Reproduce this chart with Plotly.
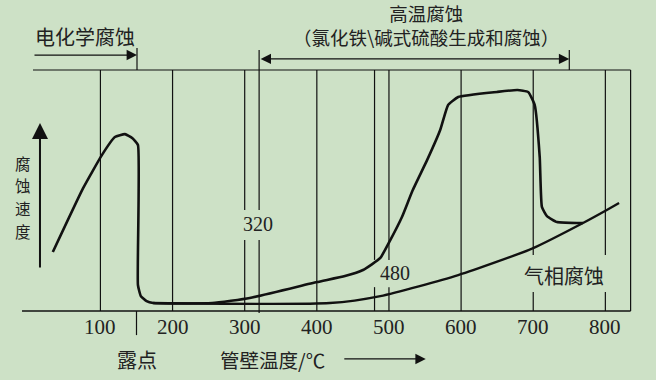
import plotly.graph_objects as go

# ---- data (temperature in °C, corrosion rate in arbitrary units 0..100) ----
main_T = [34, 76, 102, 120, 134, 144, 152, 152, 156, 164, 173, 255, 307, 400,
          439, 464, 488, 502, 518, 533, 553, 571, 582, 596, 650, 678, 693, 702,
          709, 712, 719, 733, 761, 769]
main_rate = [24.5, 51.0, 64.7, 72.2, 73.4, 71.8, 68.9, 10.8, 6.2, 4.1, 3.3, 3.3,
             5.4, 12.0, 14.5, 17.0, 22.0, 29.5, 39.0, 50.2, 62.7, 75.1, 85.5, 88.8,
             90.9, 91.7, 90.9, 85.5, 63.9, 43.2, 39.4, 36.9, 36.5, 36.5]

gas_T = [173, 418, 488, 596, 700, 769, 802, 819]
gas_rate = [3.3, 3.3, 6.2, 14.9, 26.1, 36.5, 41.9, 44.8]

tick_vals = [100, 200, 300, 400, 500, 600, 700, 800]
tick_text = ["100", "200", "300", "400", "500", "600", "700", "800"]

y_label_chars = ["腐", "蚀", "速", "度"]

DEW_POINT = 150
HT_START, HT_END = 320, 750
MARK_320, MARK_480 = 320, 480
BOX_LEFT, BOX_RIGHT, BOX_TOP = 6.5, 835, 100

# gridlines with gaps where labels sit: (T, [(y0, y1), ...])
grid = [
    (100, [(0, 100)]),
    (200, [(0, 100)]),
    (300, [(0, 29.5), (41.9, 100)]),
    (MARK_320, [(-0.8, 29.5), (41.9, 108.3)]),
    (400, [(0, 100)]),
    (MARK_480, [(0, 9.9), (21.2, 100)]),
    (500, [(0, 9.9), (21.2, 100)]),
    (600, [(0, 100)]),
    (700, [(0, 7.9), (23.2, 100)]),
    (800, [(0, 7.9), (23.2, 100)]),
    (BOX_RIGHT, [(0, 100)]),
]

BG = "#cde1c6"
INK = "#111111"
TXT = "#222222"
CJK = "Noto Sans CJK SC, sans-serif"
NUM = "Liberation Serif, Times New Roman, serif"

fig = go.Figure()
fig.add_trace(go.Scatter(x=main_T, y=main_rate, mode="lines",
                         line=dict(color=INK, width=2.6, shape="spline", smoothing=0.4),
                         hoverinfo="skip", showlegend=False))
fig.add_trace(go.Scatter(x=gas_T, y=gas_rate, mode="lines",
                         line=dict(color=INK, width=2.4, shape="spline", smoothing=0.6),
                         hoverinfo="skip", showlegend=False))

shapes = []
def seg(x0, y0, x1, y1, w=1.2):
    shapes.append(dict(type="line", xref="x", yref="y", x0=x0, y0=y0, x1=x1, y1=y1,
                       line=dict(color=INK, width=w), layer="below"))

for t, parts in grid:
    for a, b in parts:
        seg(t, a, t, b)
seg(BOX_LEFT, BOX_TOP, BOX_RIGHT, BOX_TOP)          # top line
seg(-8.7, 0, BOX_RIGHT, 0, 1.4)                      # x axis
seg(DEW_POINT, 0, DEW_POINT, -10, 1.2)               # dew point tick
seg(150.7, 100, 150.7, 109.1)                        # end of electrochemical range
seg(HT_END, 100, HT_END, 108.3)                      # end of high-temp range

annotations = []
def arrow(x0, y0, x1, y1, w=1.3, side="end", size=1.6):
    annotations.append(dict(x=x1, y=y1, ax=x0, ay=y0, xref="x", yref="y",
                            axref="x", ayref="y", text="", showarrow=True,
                            arrowhead=2, arrowsize=size, arrowwidth=w,
                            arrowcolor=INK, arrowside=side))

def text(x, y, s, size=20, font=CJK, xanchor="center"):
    annotations.append(dict(x=x, y=y, xref="x", yref="y", text=s, showarrow=False,
                            xanchor=xanchor, yanchor="middle", borderpad=0,
                            font=dict(family=font, size=size, color=TXT)))

arrow(6.5, 106.2, 150.7, 106.2)                       # 电化学腐蚀 arrow
arrow(HT_START, 104.6, HT_END, 104.6, side="end+start")  # 高温腐蚀 arrow
arrow(16.2, 17.4, 16.2, 78.0, w=2.0)                  # y-axis arrow
arrow(436, -19.9, 551, -19.9)                         # x-axis direction arrow

text(79, 113.7, "电化学腐蚀", size=20)
text(551, 118.7, "高温腐蚀<br>（氯化铁\\碱式硫酸生成和腐蚀）", size=18.5)
text(319, 36.3, "320", size=20, font=NUM)
text(509, 15.6, "480", size=20, font=NUM)
text(742, 14.9, "气相腐蚀", size=20)
for v, s in zip(tick_vals, tick_text):
    text(v, -6.8, s, size=21, font=NUM)
text(DEW_POINT, -20.3, "露点")
text(264, -20.3, "管壁温度/℃", xanchor="left", size=19.5)
for ch, yy in zip(y_label_chars, [61.4, 52.1, 42.7, 33.4]):
    text(-8.0, yy, ch, size=15.5)

fig.update_layout(
    width=656, height=380,
    margin=dict(l=0, r=0, t=0, b=0),
    paper_bgcolor=BG, plot_bgcolor=BG,
    xaxis=dict(range=[-39.23, 870.2], visible=False, fixedrange=True),
    yaxis=dict(range=[-28.63, 129.05], visible=False, fixedrange=True),
    shapes=shapes, annotations=annotations,
)
fig.write_html("out.html", config={"displayModeBar": False},
               post_script="document.body.style.margin='0';document.body.style.overflow='hidden';")
